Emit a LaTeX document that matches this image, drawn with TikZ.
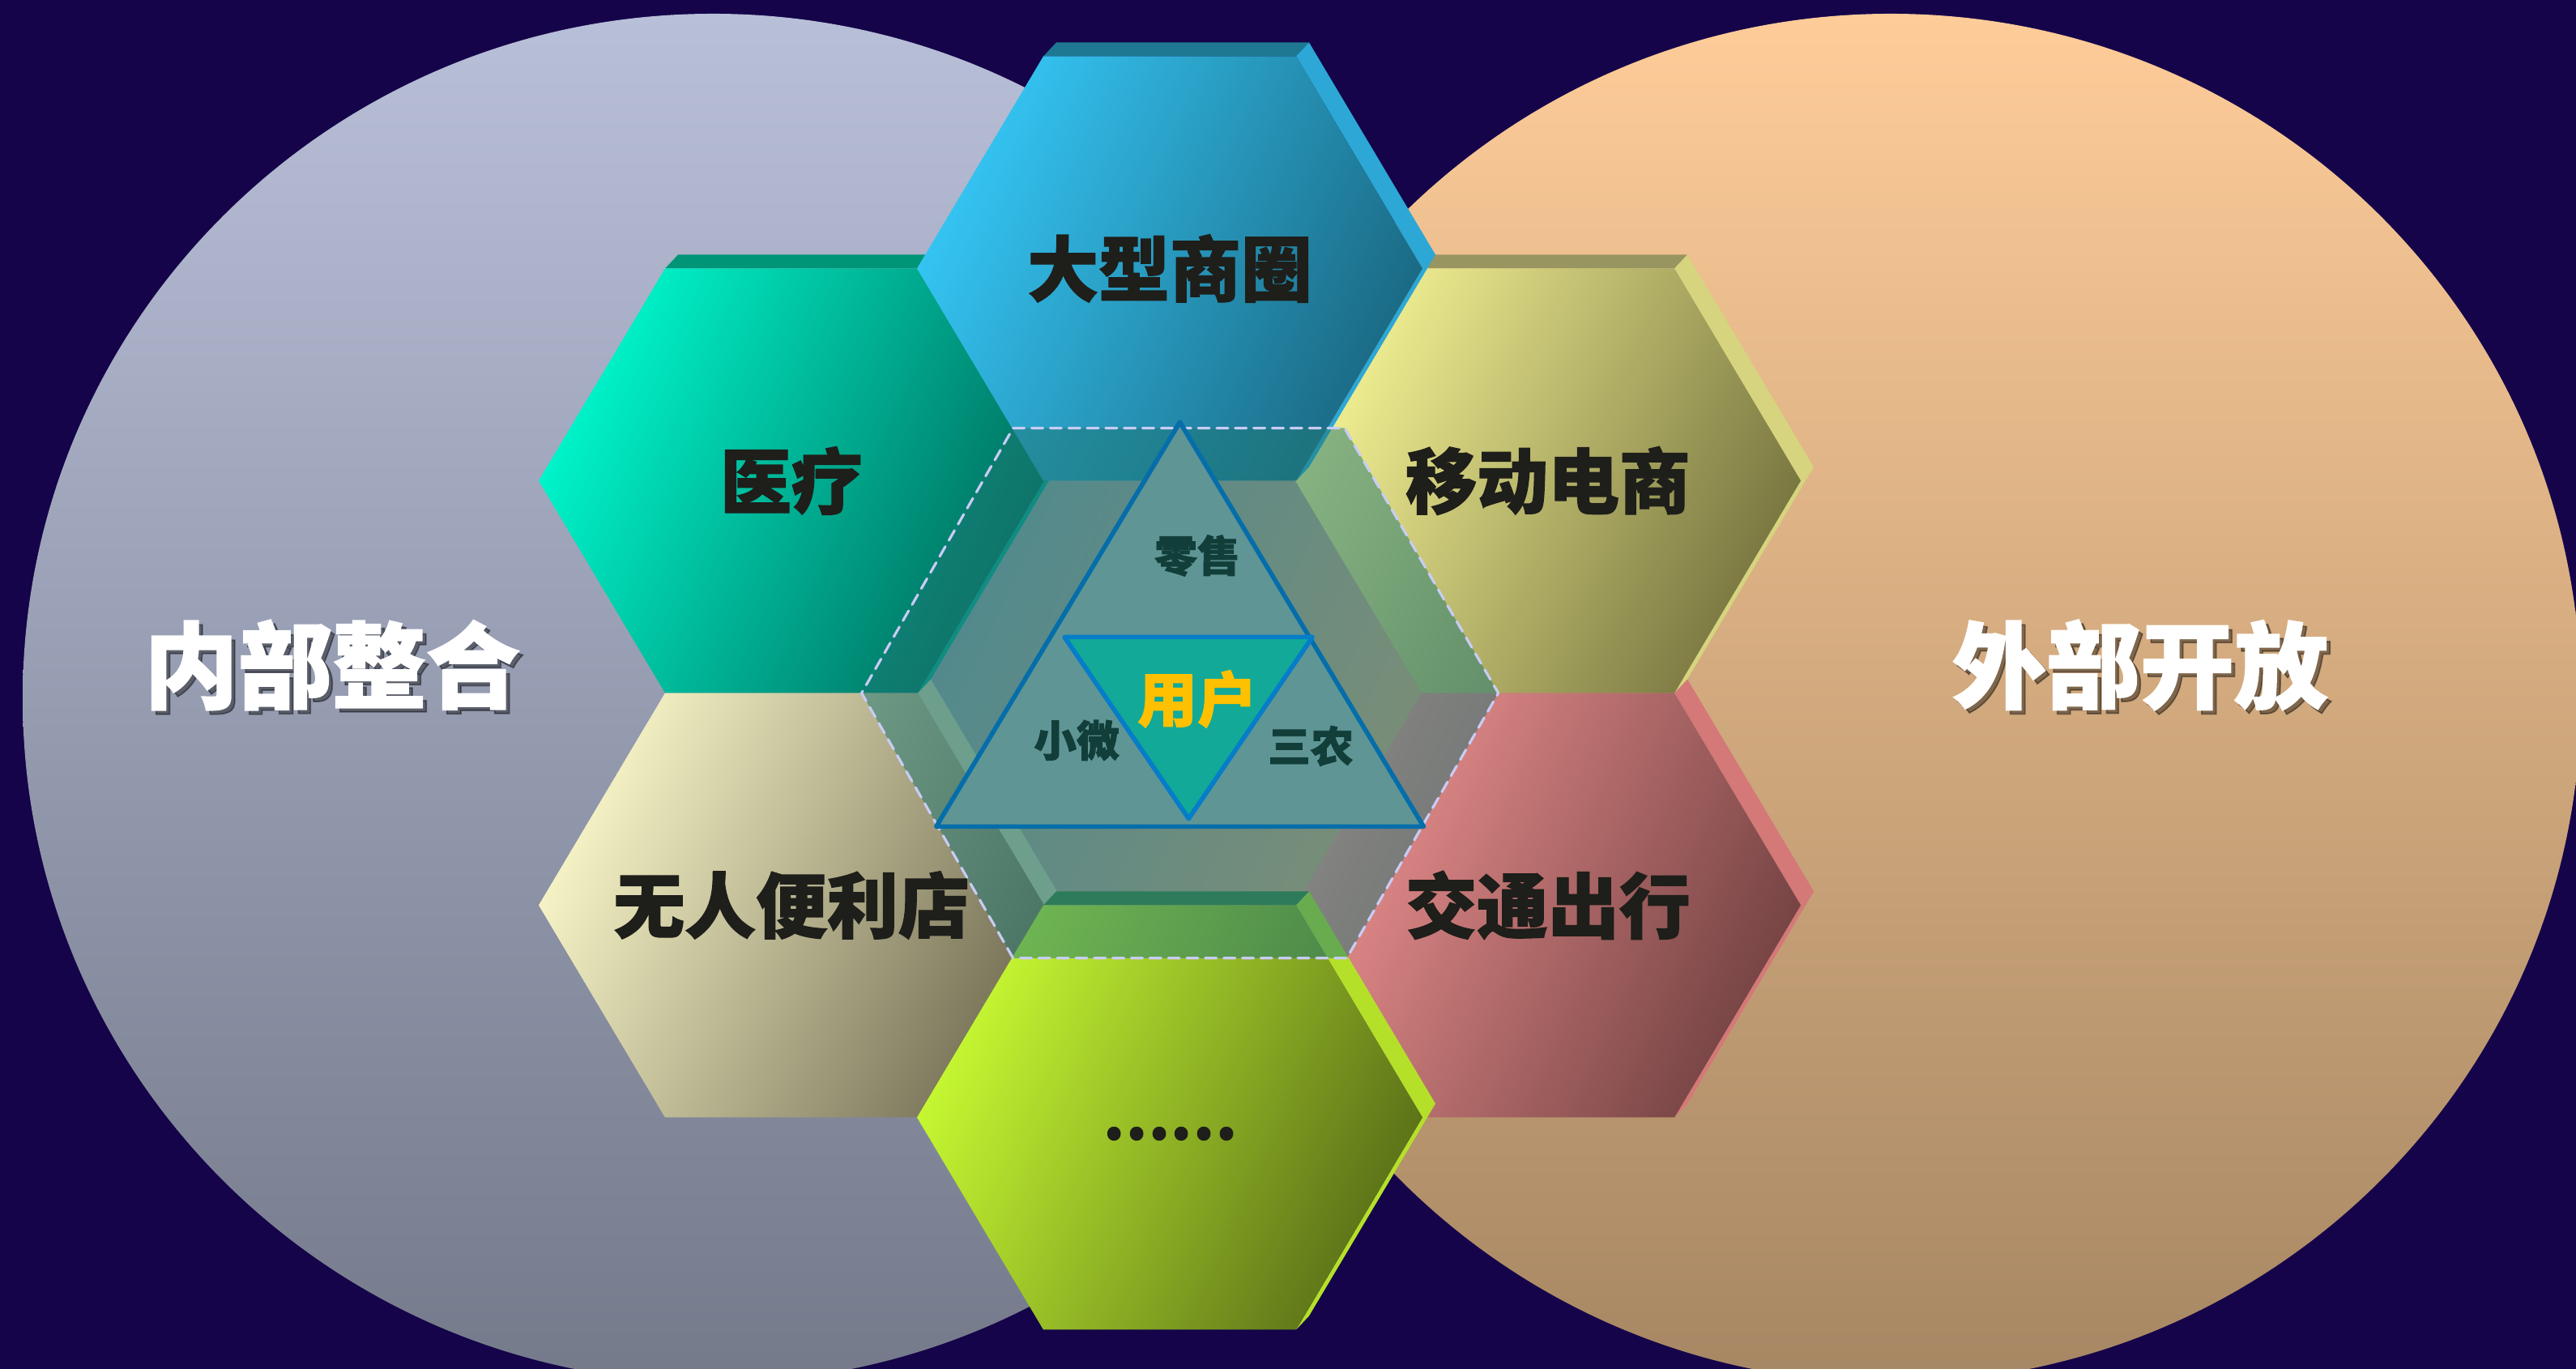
\documentclass[tikz,border=0pt]{standalone}
\usepackage{tkz-euclide}
\usepackage{tikz}
\usepackage{amsmath}
\usepackage{fontspec}
\newfontfamily\cjk{Noto Sans CJK SC}[BoldFeatures={FakeBold=1.5}]

\definecolor{bgnavy}{RGB}{21,4,73}
\definecolor{inlight}{RGB}{184,191,216}
\definecolor{indark}{RGB}{116,122,138}
\definecolor{exlight}{RGB}{254,204,153}
\definecolor{exdark}{RGB}{166,135,99}
\definecolor{ovfill}{RGB}{30,120,116}
\definecolor{ovdash}{RGB}{200,204,245}
\definecolor{trifill}{RGB}{95,149,149}
\definecolor{triedge}{RGB}{5,110,170}
\definecolor{usrfill}{RGB}{18,169,152}
\definecolor{usredge}{RGB}{5,125,200}
\definecolor{inkdark}{RGB}{30,30,26}
\definecolor{inkteal}{RGB}{18,62,58}
\definecolor{inkgold}{RGB}{255,192,0}
% hexagon colours: light, dark, top band, side band
\definecolor{oL}{RGB}{134,156,168}\definecolor{oD}{RGB}{214,164,124}
\definecolor{oT}{RGB}{150,170,160}\definecolor{oS}{RGB}{150,170,160}
\definecolor{seL}{RGB}{236,144,144}\definecolor{seD}{RGB}{116,66,66}
\definecolor{seT}{RGB}{160,96,96}\definecolor{seS}{RGB}{212,120,120}
\definecolor{neL}{RGB}{243,241,147}\definecolor{neD}{RGB}{119,117,63}
\definecolor{neT}{RGB}{153,149,96}\definecolor{neS}{RGB}{214,212,126}
\definecolor{swL}{RGB}{248,245,200}\definecolor{swD}{RGB}{120,115,88}
\definecolor{swT}{RGB}{176,174,136}\definecolor{swS}{RGB}{190,200,165}
\definecolor{nwL}{RGB}{0,247,204}\definecolor{nwD}{RGB}{0,110,94}
\definecolor{nwT}{RGB}{0,149,119}\definecolor{nwS}{RGB}{0,163,146}
\definecolor{sL}{RGB}{200,250,50}\definecolor{sD}{RGB}{90,112,24}
\definecolor{sT}{RGB}{62,128,64}\definecolor{sS}{RGB}{181,224,42}
\definecolor{nL}{RGB}{53,198,245}\definecolor{nD}{RGB}{26,104,130}
\definecolor{nT}{RGB}{30,120,146}\definecolor{nS}{RGB}{44,167,214}

\tikzset{
  hexlabel/.style={font=\cjk\bfseries\fontsize{25}{30}\selectfont, text=inkdark},
  trilabel/.style={font=\cjk\bfseries\fontsize{15}{18}\selectfont, text=inkteal},
  biglabel/.style={font=\cjk\bfseries\fontsize{33}{40}\selectfont, text=white},
  bigshadow/.style={biglabel, text=black, text opacity=.4}
}

\def\hexr{3.12}
\def\hexh{2.62}
\def\depx{0.16}
\def\depy{0.17}
% #1 centre, #2 colour prefix
\newcommand{\hexprism}[2]{%
  \begin{scope}[shift={(#1)}]
    \fill[#2T] (-\hexr/2,\hexh) -- (\hexr/2,\hexh) -- (\hexr/2+\depx,\hexh+\depy)
      -- (-\hexr/2+\depx,\hexh+\depy) -- cycle;
    \fill[#2S] (\hexr/2,\hexh) -- (\hexr,0) -- (\hexr+\depx,\depy)
      -- (\hexr/2+\depx,\hexh+\depy) -- cycle;
    \fill[#2S] (\hexr,0) -- (\hexr/2,-\hexh) -- (\hexr/2+\depx,-\hexh+\depy)
      -- (\hexr+\depx,\depy) -- cycle;
    \shade[top color=#2L, bottom color=#2D, shading angle=65]
      (-\hexr,0) -- (-\hexr/2,\hexh) -- (\hexr/2,\hexh) -- (\hexr,0)
      -- (\hexr/2,-\hexh) -- (-\hexr/2,-\hexh) -- cycle;
  \end{scope}}

\begin{document}
\begin{tikzpicture}
  \useasboundingbox (0,0) rectangle (31.8,16.9);
  \fill[bgnavy] (0,0) rectangle (31.8,16.9);
  \tkzDefPoints{8.80/8.28/In,23.34/8.28/Ex,4.10/8.69/Lt,26.42/8.69/Rt}
  \tkzDefPoints{14.44/8.345/O,14.44/13.585/N,14.44/3.105/S,9.77/10.965/NW,
    19.11/10.965/NE,9.77/5.725/SW,19.11/5.725/SE}
  \tkzDefPoints{12.506/11.615/Q1,16.598/11.615/Q2,18.496/8.344/Q3,
    16.626/5.072/Q4,12.506/5.072/Q5,10.636/8.344/Q6}
  \tkzDefPoints{14.565/11.688/A,11.557/6.696/B,17.574/6.696/C}
  \tkzDefPoints{13.14/9.036/D,16.202/9.036/E,14.674/6.793/F}
  % the two circles
  \shade[top color=inlight, bottom color=indark] (In) ellipse (8.52 and 8.45);
  \shade[top color=exlight, bottom color=exdark] (Ex) ellipse (8.52 and 8.45);
  % hexagons
  \hexprism{O}{o}
  \hexprism{SE}{se}
  \hexprism{NE}{ne}
  \hexprism{SW}{sw}
  \hexprism{NW}{nw}
  \hexprism{S}{s}
  \hexprism{N}{n}
  % dashed veil and the triangles
  \tkzDrawPolygon[fill=ovfill, fill opacity=.5, draw=ovdash, line width=.9pt,
    dash pattern=on 4pt off 2.5pt](Q1,Q2,Q3,Q4,Q5,Q6)
  \tkzDrawPolygon[fill=trifill, draw=triedge, line width=1.6pt, line join=round](A,B,C)
  \tkzDrawPolygon[fill=usrfill, draw=usredge, line width=1.6pt, line join=round](D,E,F)
  % labels
  \node[hexlabel] (tN) at (N) {大型商圈};
  \node[hexlabel] (tNW) at (NW) {医疗};
  \node[hexlabel] (tNE) at (NE) {移动电商};
  \node[hexlabel] (tSW) at (SW) {无人便利店};
  \node[hexlabel] (tSE) at (SE) {交通出行};
  \node[hexlabel, font=\cjk\bfseries\fontsize{21}{25}\selectfont, yshift=-0.2cm] (tS) at (S) {……};
  \node[trilabel] (tA) at (14.78,10.04) {零售};
  \node[trilabel] (tB) at (13.29,7.76) {小微};
  \node[trilabel] (tC) at (16.18,7.69) {三农};
  \node[font=\cjk\bfseries\fontsize{21}{25}\selectfont, text=inkgold] (tU) at (14.78,8.27) {用户};
  \node[bigshadow] (sL) at ([shift={(0.05,-0.05)}]Lt) {内部整合};
  \node[biglabel] (tL) at (Lt) {内部整合};
  \node[bigshadow] (sR) at ([shift={(0.05,-0.05)}]Rt) {外部开放};
  \node[biglabel] (tR) at (Rt) {外部开放};
\end{tikzpicture}
\end{document}
